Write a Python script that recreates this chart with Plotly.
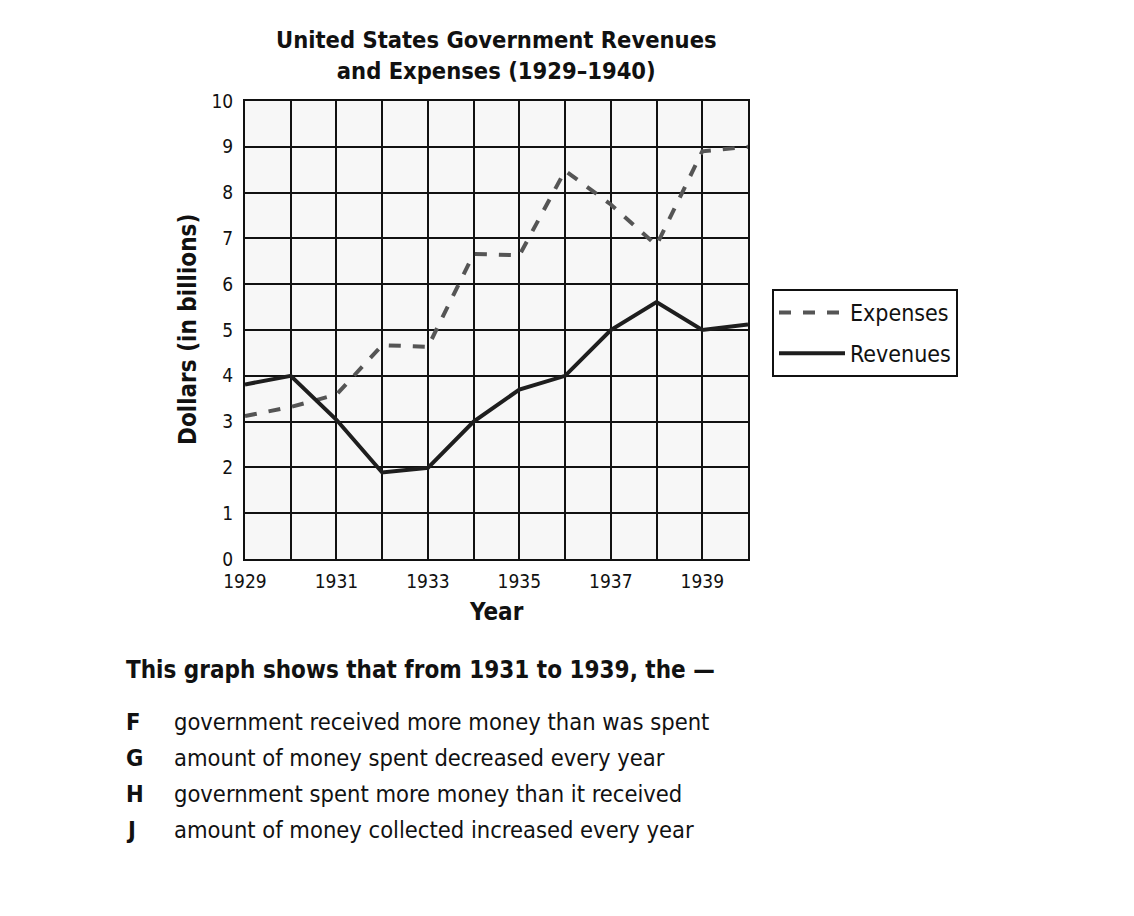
import plotly.graph_objects as go

years = [1929, 1930, 1931, 1932, 1933, 1934, 1935, 1936, 1937, 1938, 1939, 1940]
expenses = [3.12, 3.32, 3.59, 4.67, 4.63, 6.66, 6.63, 8.48, 7.74, 6.85, 8.9, 9.0]
revenues = [3.81, 4.0, 3.04, 1.89, 1.99, 3.0, 3.7, 4.0, 5.0, 5.61, 5.0, 5.12]

title_lines = ["United States Government Revenues", "and Expenses (1929\u20131940)"]
x_title = "Year"
y_title = "Dollars (in billions)"
question = "This graph shows that from 1931 to 1939, the \u2014"
option_letters = ["F", "G", "H", "J"]
option_texts = [
    "government received more money than was spent",
    "amount of money spent decreased every year",
    "government spent more money than it received",
    "amount of money collected increased every year",
]

FONT = "DejaVu Sans Condensed, DejaVu Sans, sans-serif"
OFF = 8  # page body margin
W, H = 1134 - 2 * OFF, 916 - 2 * OFF
# desired plot area in screenshot pixels
L, R, T, B = 245 - OFF, 748 - OFF, 101 - OFF, 559 - OFF


def ax(px):
    return (px - OFF - L) / (R - L)


def ay(py):
    return (B - (py - OFF)) / (B - T)


fig = go.Figure()
fig.add_trace(go.Scatter(x=years, y=expenses, mode="lines", name="Expenses", legendgroup="e",
                         line=dict(color="#555555", width=4, dash="dash")))
fig.add_trace(go.Scatter(x=years, y=revenues, mode="lines", name="Revenues", legendgroup="r",
                         line=dict(color="#1e1e1e", width=4)))

annotations = []
annotations.append(dict(text="<b>" + "<br>".join(title_lines) + "</b>",
                        x=ax(496), y=ay(55), showarrow=False,
                        font=dict(size=23.5, color="#111", family=FONT),
                        xanchor="center", yanchor="middle"))
annotations.append(dict(text="<b>" + x_title + "</b>", x=ax(496), y=ay(612), showarrow=False,
                        font=dict(size=24, color="#111", family=FONT),
                        xanchor="center", yanchor="middle"))
annotations.append(dict(text="<b>" + y_title + "</b>", x=ax(188), y=ay(330), showarrow=False,
                        textangle=-90, font=dict(size=24, color="#111", family=FONT),
                        xanchor="center", yanchor="middle"))
annotations.append(dict(text="<b>" + question + "</b>", x=ax(124), y=ay(670),
                        showarrow=False, xanchor="left", yanchor="middle",
                        font=dict(size=24, color="#111", family=FONT)))
for i, (lt, tx) in enumerate(zip(option_letters, option_texts)):
    yy = ay(722 + 36 * i)
    annotations.append(dict(text="<b>" + lt + "</b>", x=ax(124), y=yy,
                            showarrow=False, xanchor="left", yanchor="middle",
                            font=dict(size=23.5, color="#111", family=FONT)))
    annotations.append(dict(text=tx, x=ax(172), y=yy,
                            showarrow=False, xanchor="left", yanchor="middle",
                            font=dict(size=23.5, color="#111", family=FONT)))

for a in annotations:
    a["xref"] = "paper"
    a["yref"] = "paper"

fig.update_layout(
    width=W, height=H,
    margin=dict(l=L, r=W - R, t=T, b=H - B, autoexpand=False),
    paper_bgcolor="white",
    plot_bgcolor="#f7f7f7",
    font=dict(family=FONT, color="#111", size=19),
    showlegend=True,
    legend=dict(x=ax(772), y=ay(289), xanchor="left", yanchor="top",
                bgcolor="white", bordercolor="#111", borderwidth=2,
                font=dict(size=23, family=FONT, color="#111"),
                itemwidth=66, tracegroupgap=8),
    annotations=annotations,
    xaxis=dict(range=[1929, 1940], tick0=1929, dtick=2, showgrid=True, gridcolor="#111",
               gridwidth=1.5, zeroline=False, showline=True, linecolor="#111", linewidth=2,
               mirror=True, ticks="", tickfont=dict(size=19, family=FONT), ticklabelstandoff=4,
               minor=dict(dtick=1, tick0=1929, showgrid=True, gridcolor="#111", gridwidth=1.5)),
    yaxis=dict(range=[0, 10], dtick=1, showgrid=True, gridcolor="#111", gridwidth=1.5,
               zeroline=False, showline=True, linecolor="#111", linewidth=2, mirror=True,
               ticks="", tickfont=dict(size=19, family=FONT), ticklabelstandoff=6),
)

fig.write_html("out.html")
